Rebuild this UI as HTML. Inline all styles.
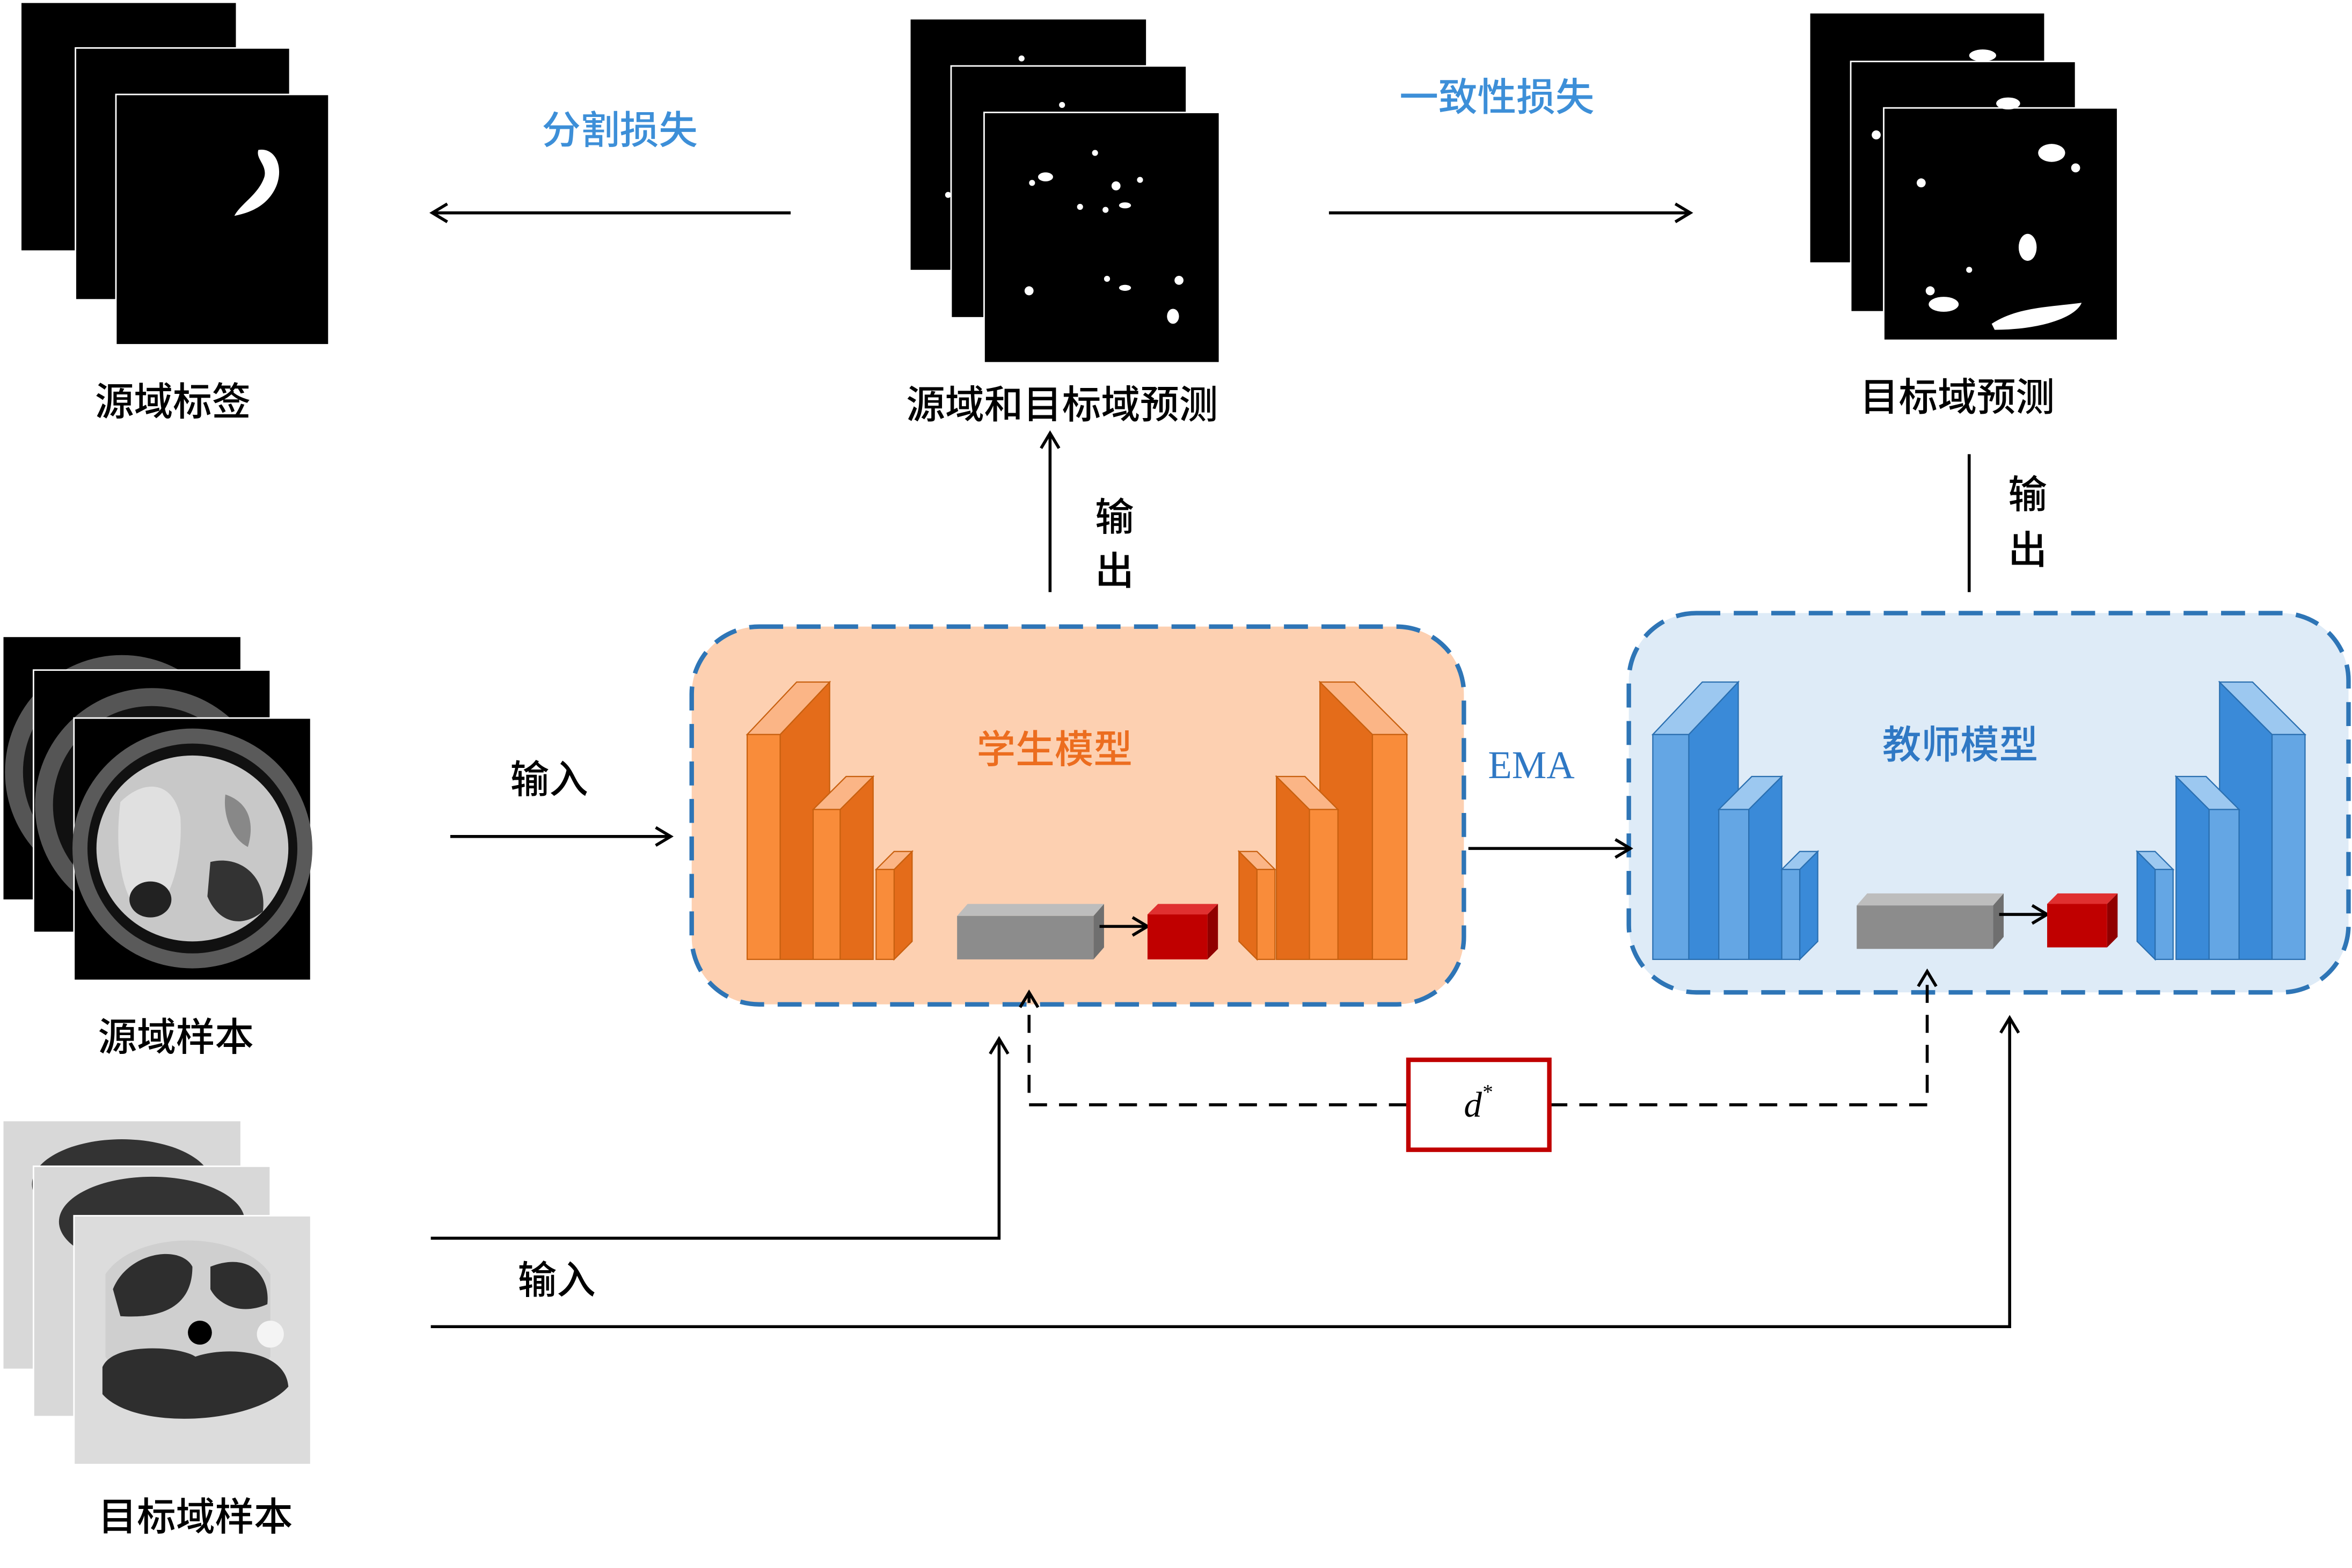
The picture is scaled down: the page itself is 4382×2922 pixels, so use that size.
<!DOCTYPE html>
<html><head><meta charset="utf-8">
<style>
html,body{margin:0;padding:0;background:#fff;}
svg{display:block;}
text{font-family:"Liberation Serif","Noto Sans CJK SC",sans-serif;font-weight:500;}
</style></head>
<body>
<svg width="4382" height="2922" viewBox="0 0 1568 1046" xmlns="http://www.w3.org/2000/svg">
<defs>
<marker id="ah" markerWidth="14" markerHeight="14" refX="11" refY="7" orient="auto" markerUnits="userSpaceOnUse">
<path d="M1,1 L11,7 L1,13" fill="none" stroke="#000" stroke-width="2"/>
</marker>
</defs>
<rect width="1568" height="1046" fill="#fff"/>

<rect x="14" y="2" width="143" height="165" fill="#000"/>
<rect x="50" y="32" width="143" height="168" stroke="#fff" stroke-width="1" fill="#000"/>
<rect x="77" y="63" width="142" height="167" stroke="#fff" stroke-width="1" fill="#000"/>
<path d="M172,100 C185,98 190,115 182,128 C176,138 166,142 156,144 C160,136 172,130 176,118 C178,110 170,106 172,100Z" fill="#fff"/>
<text x="115" y="277" font-size="26" text-anchor="middle">源域标签</text>

<text x="413" y="96" font-size="26" fill="#3d8fd8" text-anchor="middle">分割损失</text>
<line x1="527" y1="142" x2="288" y2="142" stroke="#000" stroke-width="2" marker-end="url(#ah)"/>

<rect x="607" y="13" width="157" height="167" fill="#000"/>
<rect x="634" y="44" width="157" height="168" stroke="#fff" fill="#000"/>
<rect x="656" y="75" width="157" height="167" stroke="#fff" fill="#000"/>
<g fill="#fff">
<circle cx="681" cy="39" r="2"/><circle cx="708" cy="70" r="2"/><circle cx="730" cy="102" r="2"/>
<ellipse cx="697" cy="118" rx="5" ry="3"/><circle cx="688" cy="122" r="2"/><circle cx="744" cy="124" r="3"/>
<circle cx="632" cy="130" r="2"/><circle cx="720" cy="138" r="2"/><ellipse cx="750" cy="137" rx="4" ry="2"/>
<circle cx="737" cy="140" r="2"/><circle cx="686" cy="194" r="3"/><circle cx="738" cy="186" r="2"/>
<ellipse cx="750" cy="192" rx="4" ry="2"/><circle cx="786" cy="187" r="3"/><ellipse cx="782" cy="211" rx="4" ry="5"/>
<circle cx="760" cy="120" r="2"/>
</g>
<text x="708" y="279" font-size="26" text-anchor="middle">源域和目标域预测</text>

<text x="998" y="74" font-size="26" fill="#3d8fd8" text-anchor="middle">一致性损失</text>
<line x1="886" y1="142" x2="1127" y2="142" stroke="#000" stroke-width="2" marker-end="url(#ah)"/>

<rect x="1207" y="9" width="156" height="166" fill="#000"/>
<rect x="1234" y="41" width="150" height="167" stroke="#fff" fill="#000"/>
<rect x="1256" y="72" width="156" height="155" stroke="#fff" fill="#000"/>
<g fill="#fff">
<ellipse cx="1322" cy="37" rx="9" ry="4"/><ellipse cx="1339" cy="69" rx="8" ry="4"/><circle cx="1251" cy="90" r="3"/>
<ellipse cx="1368" cy="102" rx="9" ry="6"/><circle cx="1384" cy="112" r="3"/><circle cx="1281" cy="122" r="3"/>
<ellipse cx="1352" cy="165" rx="6" ry="9"/><circle cx="1313" cy="180" r="2"/><ellipse cx="1296" cy="203" rx="10" ry="5"/>
<path d="M1328,216 C1345,205 1365,205 1388,202 C1384,212 1360,220 1330,220Z"/><circle cx="1287" cy="194" r="3"/>
</g>
<text x="1305" y="274" font-size="26" text-anchor="middle">目标域预测</text>

<line x1="700" y1="395" x2="700" y2="289" stroke="#000" stroke-width="2" marker-end="url(#ah)"/>
<text x="743" y="354" font-size="26" text-anchor="middle">输</text>
<text x="743" y="390" font-size="26" text-anchor="middle">出</text>
<line x1="1313" y1="303" x2="1313" y2="395" stroke="#000" stroke-width="2"/>
<text x="1352" y="339" font-size="26" text-anchor="middle">输</text>
<text x="1352" y="376" font-size="26" text-anchor="middle">出</text>

<rect x="461" y="418" width="515" height="252" rx="45" fill="#fdd0b1" stroke="#2e75b6" stroke-width="3" stroke-dasharray="16,9"/>
<text x="703" y="509" font-size="26" fill="#ec6d1f" text-anchor="middle">学生模型</text>
<rect x="1086" y="409" width="480" height="253" rx="45" fill="#deebf7" stroke="#2e75b6" stroke-width="3" stroke-dasharray="16,9"/>
<text x="1307" y="506" font-size="26" fill="#2f78c4" text-anchor="middle">教师模型</text>

<text x="1021" y="519" font-size="26" fill="#2f78c4" text-anchor="middle">EMA</text>
<line x1="979" y1="566" x2="1087" y2="566" stroke="#000" stroke-width="2" marker-end="url(#ah)"/>

<g stroke="#c8600f" stroke-width="0.8">
<polygon points="520,490 553,455 553,640 520,640" fill="#e46c1a"/>
<polygon points="498,490 531,455 553,455 520,490" fill="#fbb586"/>
<rect x="498" y="490" width="22" height="150" fill="#f98c3a"/>
<polygon points="560,540 582,518 582,640 560,640" fill="#e46c1a"/>
<polygon points="542,540 564,518 582,518 560,540" fill="#fbb586"/>
<rect x="542" y="540" width="18" height="100" fill="#f98c3a"/>
<polygon points="596,580 608,568 608,628 596,640" fill="#e46c1a"/>
<polygon points="584,580 596,568 608,568 596,580" fill="#fbb586"/>
<rect x="584" y="580" width="12" height="60" fill="#f98c3a"/>
<polygon points="915,490 880,455 880,640 915,640" fill="#e46c1a"/>
<polygon points="938,490 903,455 880,455 915,490" fill="#fbb586"/>
<rect x="915" y="490" width="23" height="150" fill="#f98c3a"/>
<polygon points="873,540 851,518 851,640 873,640" fill="#e46c1a"/>
<polygon points="892,540 870,518 851,518 873,540" fill="#fbb586"/>
<rect x="873" y="540" width="19" height="100" fill="#f98c3a"/>
<polygon points="838,580 826,568 826,628 838,640" fill="#e46c1a"/>
<polygon points="850,580 838,568 826,568 838,580" fill="#fbb586"/>
<rect x="838" y="580" width="12" height="60" fill="#f98c3a"/>
</g>
<polygon points="638,611 645,603 736,603 729,611" fill="#bdbdbd"/>
<polygon points="729,611 736,603 736,632 729,640" fill="#6f6f6f"/>
<rect x="638" y="611" width="91" height="29" fill="#8c8c8c"/>
<line x1="733" y1="618" x2="765" y2="618" stroke="#000" stroke-width="2" marker-end="url(#ah)"/>
<polygon points="765,610 772,603 812,603 805,610" fill="#e03030"/>
<polygon points="805,610 812,603 812,633 805,640" fill="#900000"/>
<rect x="765" y="610" width="40" height="30" fill="#c00000"/>

<g stroke="#2a6fb0" stroke-width="0.8">
<polygon points="1126,490 1159,455 1159,640 1126,640" fill="#3a8ad8"/>
<polygon points="1102,490 1135,455 1159,455 1126,490" fill="#9cc8f0"/>
<rect x="1102" y="490" width="24" height="150" fill="#64a6e4"/>
<polygon points="1166,540 1188,518 1188,640 1166,640" fill="#3a8ad8"/>
<polygon points="1146,540 1168,518 1188,518 1166,540" fill="#9cc8f0"/>
<rect x="1146" y="540" width="20" height="100" fill="#64a6e4"/>
<polygon points="1200,580 1212,568 1212,628 1200,640" fill="#3a8ad8"/>
<polygon points="1188,580 1200,568 1212,568 1200,580" fill="#9cc8f0"/>
<rect x="1188" y="580" width="12" height="60" fill="#64a6e4"/>
<polygon points="1515,490 1480,455 1480,640 1515,640" fill="#3a8ad8"/>
<polygon points="1537,490 1502,455 1480,455 1515,490" fill="#9cc8f0"/>
<rect x="1515" y="490" width="22" height="150" fill="#64a6e4"/>
<polygon points="1473,540 1451,518 1451,640 1473,640" fill="#3a8ad8"/>
<polygon points="1493,540 1471,518 1451,518 1473,540" fill="#9cc8f0"/>
<rect x="1473" y="540" width="20" height="100" fill="#64a6e4"/>
<polygon points="1437,580 1425,568 1425,628 1437,640" fill="#3a8ad8"/>
<polygon points="1449,580 1437,568 1425,568 1437,580" fill="#9cc8f0"/>
<rect x="1437" y="580" width="12" height="60" fill="#64a6e4"/>
</g>
<polygon points="1238,604 1245,596 1336,596 1329,604" fill="#bdbdbd"/>
<polygon points="1329,604 1336,596 1336,625 1329,633" fill="#6f6f6f"/>
<rect x="1238" y="604" width="91" height="29" fill="#8c8c8c"/>
<line x1="1333" y1="610" x2="1365" y2="610" stroke="#000" stroke-width="2" marker-end="url(#ah)"/>
<polygon points="1365,603 1372,596 1412,596 1405,603" fill="#e03030"/>
<polygon points="1405,603 1412,596 1412,625 1405,632" fill="#900000"/>
<rect x="1365" y="603" width="40" height="29" fill="#c00000"/>

<g>
<rect x="2" y="425" width="158" height="175" fill="#000"/>
<circle cx="81" cy="515" r="78" fill="#555"/><circle cx="81" cy="515" r="66" fill="#111"/>
<rect x="22" y="447" width="158" height="175" fill="#000" stroke="#fff"/>
<circle cx="101" cy="537" r="78" fill="#555"/><circle cx="101" cy="537" r="66" fill="#111"/>
<rect x="49" y="479" width="158" height="175" fill="#000" stroke="#fff"/>
<circle cx="128" cy="566" r="80" fill="#5a5a5a"/><circle cx="128" cy="566" r="70" fill="#111"/>
<ellipse cx="128" cy="566" rx="64" ry="62" fill="#c8c8c8"/>
<path d="M80,535 C95,520 115,520 120,545 C122,575 112,610 95,610 C80,600 76,565 80,535Z" fill="#e0e0e0"/>
<ellipse cx="100" cy="600" rx="14" ry="12" fill="#222"/>
<path d="M140,575 C160,570 178,585 175,608 C160,620 145,615 138,598Z" fill="#333"/>
<path d="M150,530 C165,535 170,548 165,565 C155,560 148,545 150,530Z" fill="#888"/>
</g>
<text x="117" y="701" font-size="26" text-anchor="middle">源域样本</text>

<text x="366" y="529" font-size="26" text-anchor="middle">输入</text>
<line x1="300" y1="558" x2="447" y2="558" stroke="#000" stroke-width="2" marker-end="url(#ah)"/>

<g>
<rect x="2" y="748" width="158" height="165" fill="#d8d8d8"/>
<ellipse cx="81" cy="790" rx="60" ry="30" fill="#333"/>
<rect x="22" y="778" width="158" height="167" fill="#d8d8d8" stroke="#fff"/>
<ellipse cx="101" cy="815" rx="62" ry="30" fill="#333"/>
<rect x="49" y="811" width="158" height="166" fill="#dcdcdc" stroke="#fff"/>
<path d="M70,850 C90,820 160,820 180,850 L180,905 C160,940 90,940 70,905Z" fill="#cfcfcf"/>
<path d="M75,860 C85,835 120,830 128,845 C128,870 110,880 80,878Z" fill="#2e2e2e"/>
<path d="M140,845 C165,835 180,850 178,870 C160,878 145,870 140,860Z" fill="#2e2e2e"/>
<path d="M68,912 C75,895 120,898 130,905 C150,898 190,900 192,925 C170,950 90,955 68,930Z" fill="#2e2e2e"/>
<circle cx="133" cy="889" r="8" fill="#000"/>
<circle cx="180" cy="890" r="9" fill="#f4f4f4"/>
</g>
<text x="130" y="1021" font-size="26" text-anchor="middle">目标域样本</text>

<polyline points="287,826 666,826 666,693" fill="none" stroke="#000" stroke-width="2" marker-end="url(#ah)"/>
<text x="371" y="863" font-size="26" text-anchor="middle">输入</text>
<polyline points="287,885 1340,885 1340,679" fill="none" stroke="#000" stroke-width="2" marker-end="url(#ah)"/>

<polyline points="938,737 686,737 686,662" fill="none" stroke="#000" stroke-width="2" stroke-dasharray="12,8" marker-end="url(#ah)"/>
<polyline points="1033,737 1285,737 1285,648" fill="none" stroke="#000" stroke-width="2" stroke-dasharray="12,8" marker-end="url(#ah)"/>
<rect x="939" y="707" width="94" height="60" fill="#fff" stroke="#c00000" stroke-width="3"/>
<text x="982" y="745" font-size="24" font-style="italic" text-anchor="middle">d</text>
<text x="992" y="733" font-size="14" text-anchor="middle">*</text>
</svg>
</body></html>
